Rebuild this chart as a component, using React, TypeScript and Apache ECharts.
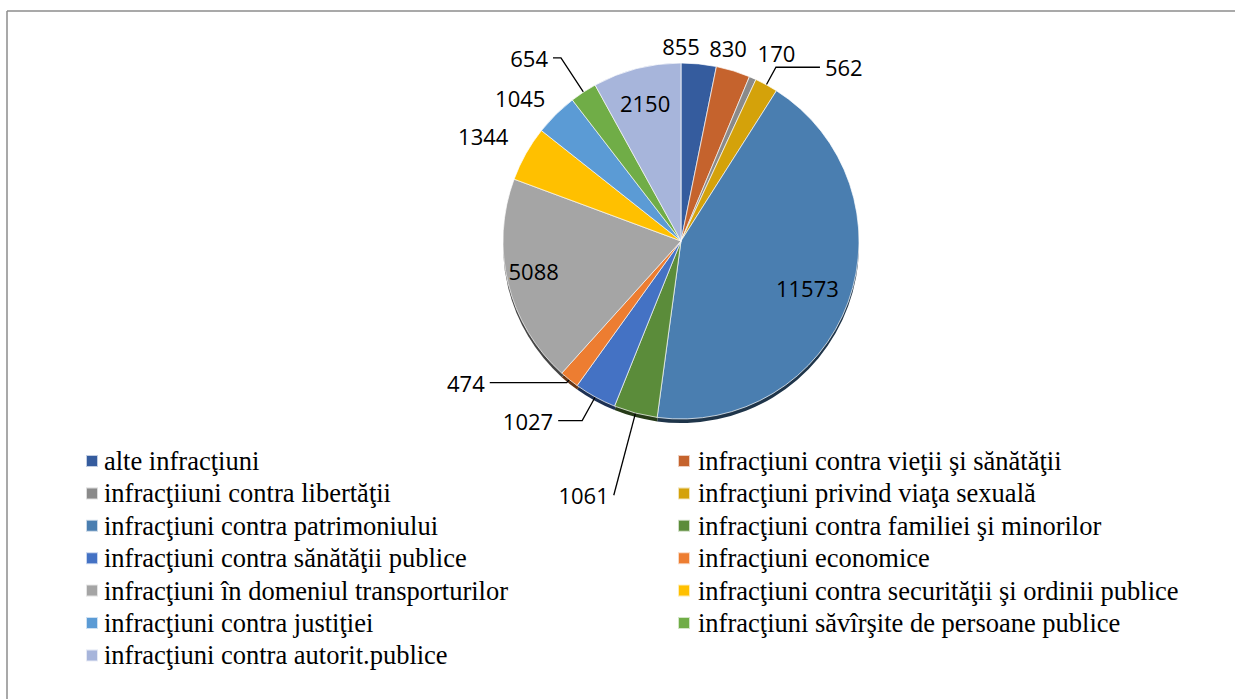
import React, { useEffect, useRef } from "react";
import * as echarts from "echarts";

const categories: string[] = [
  "alte infracţiuni",
  "infracţiuni contra vieţii şi sănătăţii",
  "infracţiiuni contra libertăţii",
  "infracţiuni privind viaţa sexuală",
  "infracţiuni contra patrimoniului",
  "infracţiuni contra familiei şi minorilor",
  "infracţiuni contra sănătăţii publice",
  "infracţiuni economice",
  "infracţiuni în domeniul transporturilor",
  "infracţiuni contra securităţii şi ordinii publice",
  "infracţiuni contra justiţiei",
  "infracţiuni săvîrşite de persoane publice",
  "infracţiuni contra autorit.publice",
];

const values: number[] = [855, 830, 170, 562, 11573, 1061, 1027, 474, 5088, 1344, 1045, 654, 2150];

const colors: string[] = [
  "#355C9E", "#C5632D", "#8A8A8A", "#D4A20A", "#4A7EB0", "#5B8C3A", "#4472C4",
  "#ED7D31", "#A5A5A5", "#FFC000", "#5B9BD5", "#70AD47", "#A7B5DB",
];

// label styling (placement / leader lines / small nudges)
const labelPlacement: string[] = [
  "outside", "outside", "outside", "outside", "inside", "outside", "outside",
  "outside", "inside", "outside", "outside", "outside", "inside",
];
const leaderShown: boolean[] = [false, false, false, true, false, true, true, true, false, false, false, true, false];
const leaderLen: number[] = [14, 24, 27, 20, 0, 85, 27, 4, 0, 12, 15, 41, 0];
const leaderLen2: number[] = [0, 0, 0, 44, 0, 0, 24, 77, 0, 0, 0, 8, 0];
const nudges: (number[] | null)[] = [
  [-43, -4], [-36, 0], [-11, 0], null, [40, 15], null, null, null,
  [-58, 8], [-2, -12], [5, -6], null, [-13, -49],
];

function darken(hex: string, k: number): string {
  const n = parseInt(hex.slice(1), 16);
  const r = Math.round(((n >> 16) & 255) * k);
  const g = Math.round(((n >> 8) & 255) * k);
  const b = Math.round((n & 255) * k);
  return `rgb(${r},${g},${b})`;
}

export default function App() {
  const ref = useRef<HTMLDivElement>(null);
  useEffect(() => {
    if (!ref.current) return;
    const chart = echarts.init(ref.current, null, { renderer: "svg" });
    const center = [681, 241];
    const radius = 178;

    const mainData = categories.map((name, i) => ({
      name,
      value: values[i],
      itemStyle: { color: colors[i] },
      label: { position: labelPlacement[i] },
      labelLine: { show: leaderShown[i], length: leaderLen[i], length2: leaderLen2[i] },
    }));
    const shadowData = categories.map((name, i) => ({
      name,
      value: values[i],
      itemStyle: { color: darken(colors[i], 0.42) },
    }));

    const leftNames = categories.filter((_, i) => i % 2 === 0);
    const rightNames = categories.filter((_, i) => i % 2 === 1);
    const legendText = {
      fontFamily: "'Liberation Serif', 'Times New Roman', serif",
      fontSize: 26.5,
      lineHeight: 30,
      color: "#000",
      padding: [0, 0, 0, 1],
    };

    chart.setOption({
      animation: false,
      backgroundColor: "#fff",
      legend: [
        {
          orient: "vertical",
          left: 85,
          top: 446,
          padding: 0,
          itemWidth: 12,
          itemHeight: 12,
          itemGap: 2.4,
          icon: "rect",
          selectedMode: false,
          data: leftNames,
          textStyle: legendText,
        },
        {
          orient: "vertical",
          left: 677,
          top: 446,
          padding: 0,
          itemWidth: 12,
          itemHeight: 12,
          itemGap: 2.4,
          icon: "rect",
          selectedMode: false,
          data: rightNames,
          textStyle: { ...legendText, padding: [0, 0, 0, 3] },
        },
      ],
      graphic: [
        { type: "line", shape: { x1: 7, y1: 11, x2: 1235, y2: 11 }, style: { stroke: "#8c8c8c", lineWidth: 1.5 } },
        { type: "line", shape: { x1: 7, y1: 11, x2: 7, y2: 699 }, style: { stroke: "#8c8c8c", lineWidth: 1.5 } },
      ],
      series: [
        {
          type: "pie",
          z: 3,
          center,
          radius,
          startAngle: 90,
          clockwise: true,
          avoidLabelOverlap: false,
          data: mainData,
          itemStyle: { borderColor: "rgba(255,255,255,0.7)", borderWidth: 1 },
          label: {
            show: true,
            formatter: "{c}",
            fontFamily: "'Open Sans', sans-serif",
            fontSize: 22,
            color: "#000",
          },
          labelLine: { lineStyle: { color: "#000", width: 1.3 }, smooth: false },
          labelLayout: (params: any) => {
            const n = nudges[params.dataIndex];
            return n ? { dx: n[0], dy: n[1] } : {};
          },
          emphasis: { disabled: true },
        },
        {
          type: "pie",
          z: 1,
          silent: true,
          center: [center[0], center[1] + 4],
          radius,
          startAngle: 90,
          clockwise: true,
          data: shadowData,
          label: { show: false },
          labelLine: { show: false },
          emphasis: { disabled: true },
        },
      ],
    });
    return () => chart.dispose();
  }, []);
  return (
    <div
      ref={ref}
      style={{ position: "absolute", left: 0, top: 0, width: 1235, height: 699 }}
    />
  );
}
